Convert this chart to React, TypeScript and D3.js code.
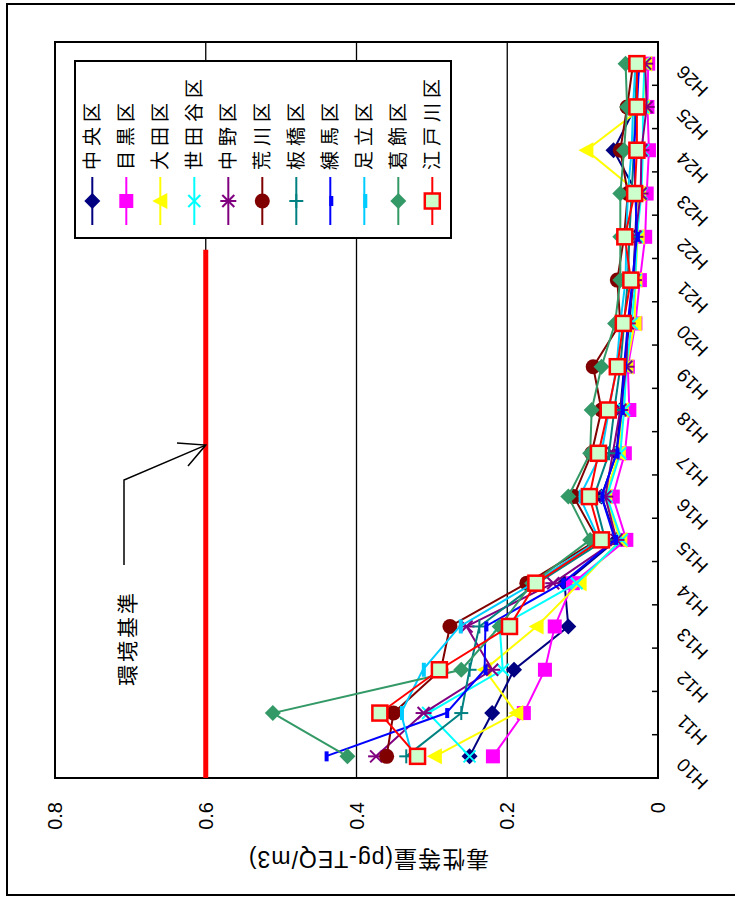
import React from 'react';
import * as d3 from 'd3';

const categories = ['H10','H11','H12','H13','H14','H15','H16','H17','H18','H19','H20','H21','H22','H23','H24','H25','H26'];
const seriesNames = ['中央区','目黒区','大田区','世田谷区','中野区','荒川区','板橋区','練馬区','足立区','葛飾区','江戸川区'];

const chuo = [0.250,0.220,0.191,0.119,0.124,0.055,0.075,0.055,0.050,0.045,0.038,0.033,0.030,0.028,0.059,0.030,0.025];
const meguro = [0.219,0.178,0.150,0.137,0.113,0.042,0.060,0.044,0.038,0.040,0.030,0.024,0.017,0.015,0.012,0.014,0.013];
const ota = [0.296,0.188,0.230,0.161,0.104,0.050,0.070,0.052,0.048,0.042,0.031,0.030,0.027,0.025,0.095,0.020,0.017];
const setagaya = [0.250,0.305,0.206,0.210,0.108,0.048,0.068,0.050,0.045,0.042,0.035,0.030,0.028,0.022,0.020,0.020,0.018];
const nakano = [0.374,0.311,0.220,0.254,0.139,0.055,0.070,0.060,0.050,0.042,0.040,0.032,0.030,0.023,0.022,0.015,0.017];
const arakawa = [0.360,0.351,0.288,0.276,0.174,0.080,0.112,0.088,0.075,0.086,0.050,0.054,0.045,0.040,0.050,0.041,0.033];
const itabashi = [0.334,0.261,0.250,0.237,0.160,0.070,0.085,0.065,0.058,0.050,0.045,0.040,0.038,0.035,0.032,0.030,0.028];
const nerima = [0.441,0.281,0.230,0.229,0.127,0.057,0.075,0.055,0.048,0.045,0.040,0.034,0.028,0.030,0.032,0.028,0.025];
const adachi = [0.326,0.341,0.312,0.263,0.165,0.078,0.104,0.075,0.065,0.055,0.050,0.043,0.042,0.040,0.035,0.033,0.030];
const katsushika = [0.412,0.511,0.261,0.210,0.167,0.090,0.119,0.090,0.088,0.075,0.057,0.050,0.050,0.050,0.045,0.041,0.043];
const edogawa = [0.319,0.369,0.290,0.197,0.162,0.075,0.091,0.079,0.066,0.054,0.046,0.036,0.044,0.031,0.028,0.028,0.028];

const seriesValues = [chuo, meguro, ota, setagaya, nakano, arakawa, itabashi, nerima, adachi, katsushika, edogawa];
const seriesColors = ['#000080','#FF00FF','#FFFF00','#00FFFF','#800080','#800000','#008080','#0000FF','#00CCFF','#339966','#FF0000'];
const markerTypes = ['diamond','square','triangle','x','asterisk','circle','plus','dash','longdash','diamond','boxed'];

const valueTicks = [0, 0.2, 0.4, 0.6, 0.8];
const standardValue = 0.6;
const standardLabel = '環境基準';
const axisTitle = '毒性等量(pg‑TEQ/m3)';

const W = 735, H = 897;
const plot = { left: 119, right: 855, top: 55, bottom: 658 };
const FONT = '"Liberation Sans", Arial, "Noto Sans CJK JP", sans-serif';

function Marker({ type, color, x, y }: { type: string; color: string; x: number; y: number }) {
  switch (type) {
    case 'diamond':
      return <path d={`M${x},${y - 8}L${x + 8},${y}L${x},${y + 8}L${x - 8},${y}Z`} fill={color} />;
    case 'square':
      return <rect x={x - 7} y={y - 7} width={14} height={14} fill={color} />;
    case 'triangle':
      return <path d={`M${x},${y - 8}L${x + 8},${y + 7}L${x - 8},${y + 7}Z`} fill={color} />;
    case 'x':
      return <g stroke={color} strokeWidth={2}><line x1={x - 6} y1={y - 6} x2={x + 6} y2={y + 6} /><line x1={x - 6} y1={y + 6} x2={x + 6} y2={y - 6} /></g>;
    case 'asterisk':
      return <g stroke={color} strokeWidth={2}><line x1={x - 6} y1={y - 6} x2={x + 6} y2={y + 6} /><line x1={x - 6} y1={y + 6} x2={x + 6} y2={y - 6} /><line x1={x} y1={y - 8} x2={x} y2={y + 8} /></g>;
    case 'circle':
      return <circle cx={x} cy={y} r={7.5} fill={color} />;
    case 'plus':
      return <g stroke={color} strokeWidth={2}><line x1={x - 7} y1={y} x2={x + 7} y2={y} /><line x1={x} y1={y - 7} x2={x} y2={y + 7} /></g>;
    case 'dash':
      return <rect x={x - 5} y={y - 1} width={10} height={4} fill={color} />;
    case 'longdash':
      return <rect x={x - 7} y={y - 1} width={14} height={4} fill={color} />;
    case 'boxed':
      return <rect x={x - 7.5} y={y - 7.5} width={15} height={15} fill="#CCFFCC" stroke={color} strokeWidth={2.5} />;
    default:
      return null;
  }
}

export default function App() {
  const xScale = d3.scaleBand<string>().domain(categories).range([plot.left, plot.right]);
  const yScale = d3.scaleLinear().domain([0, 0.8]).range([plot.bottom, plot.top]);
  const step = xScale.step();
  const cx = (i: number) => (xScale(categories[i]) as number) + xScale.bandwidth() / 2;
  const lineGen = d3.line<number>().x((_, i) => cx(i)).y((d) => yScale(d));

  const stdY = yScale(standardValue);
  const stdEnd = plot.left + step * 12.2;
  const tipX = plot.left + step * 7.69;

  const legend = { x: 659, y: 75, w: 177, h: 376 };
  const rowY = (i: number) => 92.3 + 34 * i;

  return (
    <svg width={W} height={H} style={{ position: 'absolute', left: 0, top: 0, background: '#fff' }} fontFamily={FONT}>
      <rect x={7} y={4} width={760} height={891} fill="none" stroke="#000" strokeWidth={2} />
      <g transform={`translate(0,${H}) rotate(-90)`}>
        {valueTicks.filter((v) => v > 0 && v < 0.8).map((v) => (
          <line key={v} x1={plot.left} x2={plot.right} y1={yScale(v)} y2={yScale(v)} stroke="#000" strokeWidth={1.3} />
        ))}
        <rect x={plot.left} y={plot.top} width={plot.right - plot.left} height={plot.bottom - plot.top} fill="none" stroke="#000" strokeWidth={2} />
        {categories.map((c, i) => i > 0 ? (
          <line key={c} x1={xScale(c)} x2={xScale(c)} y1={plot.bottom} y2={plot.bottom - 6} stroke="#000" strokeWidth={1.5} />
        ) : null)}
        <line x1={plot.left} x2={stdEnd} y1={stdY} y2={stdY} stroke="#FF0000" strokeWidth={5} />
        {seriesValues.map((vals, s) => (
          <g key={seriesNames[s]}>
            <path d={lineGen(vals) || ''} fill="none" stroke={seriesColors[s]} strokeWidth={2} />
            {vals.map((v, i) => (
              <Marker key={i} type={markerTypes[s]} color={seriesColors[s]} x={cx(i)} y={yScale(v)} />
            ))}
          </g>
        ))}
        <text x={259} y={127} fontSize={21} letterSpacing={3} textAnchor="middle" dominantBaseline="central">{standardLabel}</text>
        <path d={`M${332},${124}L${417},${124}L${tipX},${stdY}`} fill="none" stroke="#000" strokeWidth={1.5} />
        <path d={`M${tipX + 2},${177}L${tipX},${stdY}L${tipX - 21},${188}`} fill="none" stroke="#000" strokeWidth={1.5} />
        <rect x={legend.x} y={legend.y} width={legend.w} height={legend.h} fill="#fff" stroke="#000" strokeWidth={2} />
        {seriesNames.map((n, i) => (
          <g key={n}>
            <line x1={672} x2={720} y1={rowY(i)} y2={rowY(i)} stroke={seriesColors[i]} strokeWidth={2} />
            <Marker type={markerTypes[i]} color={seriesColors[i]} x={696} y={rowY(i)} />
            <text x={727} y={rowY(i)} fontSize={19} letterSpacing={5} dominantBaseline="central">{n}</text>
          </g>
        ))}
        {valueTicks.map((v) => (
          <text key={v} x={plot.left - 24} y={yScale(v)} fontSize={20} textAnchor="end" dominantBaseline="central">{v === 0 ? '0' : v.toFixed(1)}</text>
        ))}
        {categories.map((c, i) => (
          <text key={c} transform={`translate(${cx(i) - 5},${plot.bottom + 22}) rotate(-45)`} fontSize={19} textAnchor="end" dominantBaseline="central">{c}</text>
        ))}
        <text transform={`translate(38,${(plot.top + plot.bottom) / 2 + 12}) rotate(-90)`} fontSize={23} letterSpacing={1} textAnchor="middle" dominantBaseline="central">{axisTitle}</text>
      </g>
    </svg>
  );
}
